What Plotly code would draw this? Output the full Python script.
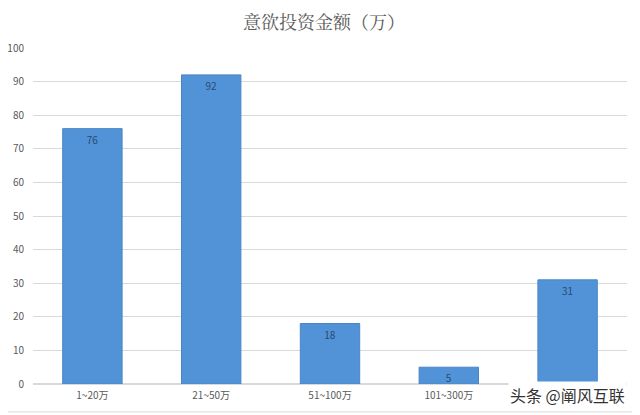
import plotly.graph_objects as go

# data
categories = ["1~20万", "21~50万", "51~100万", "101~300万", "300万以上"]
amounts = [76, 92, 18, 5, 31]
y_ticks = [0, 10, 20, 30, 40, 50, 60, 70, 80, 90, 100]

fig = go.Figure([go.Bar(
    x=categories, y=amounts,
    text=amounts, textposition="inside", insidetextanchor="end", textangle=0,
    textfont=dict(size=10, color="#2b4a73"),
    marker=dict(color="#5193d6", line=dict(color="#4a86c5", width=1)),
)])

# page body adds 8px, so the figure is a bit smaller than the window
fig.update_layout(
    width=632, height=407,
    margin=dict(l=25, r=13, t=40, b=31),
    paper_bgcolor="white", plot_bgcolor="white",
    font=dict(family="Noto Sans CJK SC", color="#595959"),
    title=dict(text="意欲投资金额（万）", x=0.5, xanchor="center", y=0.965, yanchor="middle",
               font=dict(family="Noto Serif CJK SC, Noto Sans CJK SC", size=18, color="#595959")),
    bargap=0.5,
    showlegend=False,
    uniformtext=dict(minsize=10, mode="show"),
)
fig.update_yaxes(range=[0, 100], tickvals=y_ticks, showgrid=True, gridcolor="#d9d9d9",
                 zeroline=True, zerolinecolor="#d9d9d9", tickfont=dict(size=10, color="#595959"),
                 ticks="", ticklabelstandoff=8, automargin=False)
fig.update_xaxes(showgrid=False, tickfont=dict(size=10, color="#595959"), ticks="",
                 ticklabelstandoff=4, automargin=False)

# watermark sitting over the last category label
fig.add_annotation(text="头条 @阐风互联", xref="paper", yref="paper", x=1.0, y=-0.033,
                   xanchor="right", yanchor="middle", showarrow=False, bgcolor="white",
                   font=dict(size=16, color="#333333"))

# thin frame round the image
fig.add_shape(type="rect", xref="paper", yref="paper", x0=-0.052, x1=1.017, y0=-0.083, y1=1.137,
              line=dict(color="#d9d9d9", width=1))

fig.write_html("out.html")
